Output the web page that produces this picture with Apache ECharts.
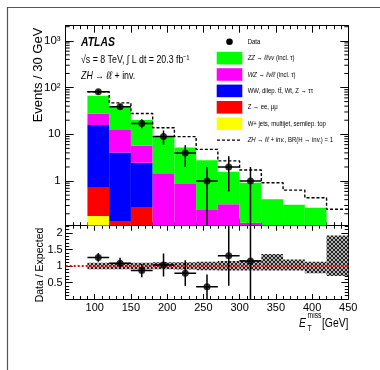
<!DOCTYPE html>
<html lang="en">
<head>
<meta charset="UTF-8">
<title>ZH → ℓℓ + inv., ETmiss</title>
<style>html,body{margin:0;padding:0;background:#fff;}</style>
</head>
<body>
<div id="main" style="width:380px;height:370px;"></div>
<script src="https://cdn.jsdelivr.net/npm/echarts@6/dist/echarts.min.js"></script>
<script>
// 30 GeV bins
var binLow  = [90, 120, 150, 180, 210, 240, 270, 300, 330, 360, 390, 420];
var binHigh = [120, 150, 180, 210, 240, 270, 300, 330, 360, 390, 420, 450];

// backgrounds, stacked bottom -> top
var wjets = [0.18, 0, 0, 0, 0, 0, 0, 0, 0, 0, 0, 0];
var zll   = [0.54, 0.135, 0.27, 0, 0, 0, 0, 0, 0, 0, 0, 0];
var ww    = [15.0, 3.97, 2.19, 0, 0, 0, 0, 0, 0, 0, 0, 0];
var wz    = [12.2, 8.2, 3.24, 1.46, 0.86, 0.24, 0.32, 0.128, 0, 0, 0, 0];
var zz    = [38.6, 27.7, 14.4, 7.74, 4.34, 2.56, 1.26, 0.79, 0.41, 0.31, 0.27, 0];
// ZH -> ll + inv (dashed)
var signal = [81, 47, 27.9, 13.8, 8.9, 4.75, 2.7, 1.72, 0.92, 0.64, 0.44, 0.25];

// data
var dataX  = [105, 135, 165, 195, 225, 255, 285, 315];
var dataY  = [81, 39, 17, 9, 4, 1, 2, 1];
var dataLo = [72, 33, 13.5, 6, 2, 0, 0.6, 0];
var dataHi = [90, 45, 21, 12, 5.8, 2.0, 3.4, 2.0];

// data / expected
var ratioY  = [1.26, 1.08, 0.86, 1.03, 0.78, 0.37, 1.31, 1.15];
var ratioLo = [1.13, 0.91, 0.66, 0.68, 0.39, 0, 0.40, 0];
var ratioHi = [1.39, 1.25, 1.06, 1.38, 1.17, 0.74, 2.5, 2.5];
var bandLo  = [0.90, 0.90, 0.90, 0.90, 0.89, 0.87, 0.86, 0.86, 0.86, 0.86, 0.78, 0.70];
var bandHi  = [1.10, 1.10, 1.10, 1.11, 1.11, 1.13, 1.15, 1.18, 1.36, 1.20, 1.13, 1.92];

var logLabels = { 0: '1', 1: '10', 2: '10²', 3: '10³' };

var legendNames = ['Data', 'ZZ → ℓℓνν', 'WZ → ℓνℓℓ', 'WW, dilep. tt̄, Wt, Z → ττ', 'Z → ee, μμ', 'W+ jets, multijet, semilep. top', 'ZH → ℓℓ + inv.'];
var legendTails = ['', ' (incl. τ)', ' (incl. τ)', '', '', '', ', BR(H → inv.) = 1'];

var X_MIN = 60, X_MAX = 450, Y_MIN = 0.111, Y_MAX = 2100;
var FONT = "'Liberation Sans', Arial, sans-serif";
var SQ = 0.8; // the original text is drawn narrow
var colors = ['#ffff00', '#ff0000', '#0000ff', '#ff00ff', '#00ff00'];

var myChart = echarts.init(document.getElementById('main'));

// grey hatch for the systematic band
var hatch = document.createElement('canvas');
hatch.width = 4; hatch.height = 4;
var hctx = hatch.getContext('2d');
hctx.fillStyle = '#b4b4b4';
hctx.fillRect(0, 0, 4, 4);
hctx.fillStyle = '#222';
[[0,0],[1,1],[2,2],[3,3],[3,0],[2,1],[1,2],[0,3]].forEach(function (p) { hctx.fillRect(p[0], p[1], 1, 1); });

// stacked rects
var stacks = [wjets, zll, ww, wz, zz];
var base = binLow.map(function () { return 0; });
var stackSeries = stacks.map(function (vals, k) {
    var items = vals.map(function (v, i) {
        var lo = base[i], hi = base[i] + v;
        base[i] = hi;
        return [binLow[i], binHigh[i], Math.max(lo, Y_MIN), Math.max(hi, Y_MIN)];
    });
    return {
        type: 'custom', xAxisIndex: 0, yAxisIndex: 0, clip: true,
        encode: { x: [0, 1], y: [2, 3] },
        data: items,
        renderItem: function (params, api) {
            var p0 = api.coord([api.value(0), api.value(3)]);
            var p1 = api.coord([api.value(1), api.value(2)]);
            if (p1[1] - p0[1] <= 0) return;
            return { type: 'rect', shape: { x: p0[0], y: p0[1], width: p1[0] - p0[0], height: p1[1] - p0[1] },
                style: { fill: colors[k] } };
        }
    };
});

function errorSeries(xi, yi, xs, lo, hi, ymin) {
    return {
        type: 'custom', xAxisIndex: xi, yAxisIndex: yi, clip: true, z: 4,
        data: xs.map(function (x, i) { return [x, Math.max(lo[i], ymin), hi[i], x - 15, x + 15, i]; }),
        encode: { x: 0, y: [1, 2] },
        renderItem: function (params, api) {
            var x = api.value(0), i = api.value(5);
            var yv = (yi === 0 ? dataY : ratioY)[i];
            var a = api.coord([x, api.value(1)]);
            var b = api.coord([x, api.value(2)]);
            var l = api.coord([api.value(3), yv]);
            var r = api.coord([api.value(4), yv]);
            var st = { stroke: '#000', lineWidth: 1.5 };
            return { type: 'group', children: [
                { type: 'line', shape: { x1: a[0], y1: a[1], x2: b[0], y2: b[1] }, style: st },
                { type: 'line', shape: { x1: l[0], y1: l[1], x2: r[0], y2: r[1] }, style: st }
            ] };
        }
    };
}

// log minor ticks on both sides of the top pad
var minorVals = [];
for (var e = -1; e <= 3; e++) for (var m = 2; m <= 9; m++) {
    var v = m * Math.pow(10, e);
    if (v > Y_MIN && v < Y_MAX) minorVals.push(v);
}

function xAx(grid, pos, labels) {
    return {
        gridIndex: grid, type: 'value', min: X_MIN, max: X_MAX, splitNumber: 8, position: pos,
        axisLine: { onZero: false, lineStyle: { color: '#000', width: 1 } },
        axisTick: { inside: true, length: grid === 0 ? 7 : 5, lineStyle: { color: '#000' } },
        minorTick: { show: true, splitNumber: 5, length: grid === 0 ? 3.5 : 3, lineStyle: { color: '#000' } },
        splitLine: { show: false },
        axisLabel: { show: labels, showMinLabel: false, margin: 3, color: '#000', fontSize: 11, fontFamily: FONT }
    };
}

var option = {
    animation: false,
    backgroundColor: '#fff',
    grid: [
        { left: 65.7, right: 31.7, top: 25.7, height: 200 },
        { left: 65.7, right: 31.7, top: 225.7, height: 73.3 }
    ],
    xAxis: [xAx(0, 'bottom', false), xAx(0, 'top', false), xAx(1, 'bottom', true), xAx(1, 'top', false)],
    yAxis: [
        {
            gridIndex: 0, type: 'log', logBase: 10, min: Y_MIN, max: Y_MAX, position: 'left',
            axisLine: { show: true, lineStyle: { color: '#000' } },
            axisTick: { inside: true, length: 8, lineStyle: { color: '#000' } },
            splitLine: { show: false },
            axisLabel: {
                showMinLabel: false, showMaxLabel: false, margin: 5, color: '#000', fontSize: 11.5, fontFamily: FONT,
                formatter: function (v) { return logLabels[Math.round(Math.log10(v))] || ''; }
            }
        },
        {
            gridIndex: 0, type: 'log', logBase: 10, min: Y_MIN, max: Y_MAX, position: 'right',
            axisLine: { show: true, lineStyle: { color: '#000' } },
            axisTick: { inside: true, length: 8, lineStyle: { color: '#000' } },
            splitLine: { show: false }, axisLabel: { show: false }
        },
        {
            gridIndex: 1, type: 'value', min: 0, max: 2.22, splitNumber: 4, position: 'left',
            axisLine: { show: true, lineStyle: { color: '#000' } },
            axisTick: { inside: true, length: 7, lineStyle: { color: '#000' } },
            minorTick: { show: true, splitNumber: 5, length: 3.5, lineStyle: { color: '#000' } },
            splitLine: { show: false },
            axisLabel: { showMinLabel: false, showMaxLabel: false, margin: 3, color: '#000', fontSize: 11, fontFamily: FONT }
        },
        {
            gridIndex: 1, type: 'value', min: 0, max: 2.22, splitNumber: 4, position: 'right',
            axisLine: { show: true, lineStyle: { color: '#000' } },
            axisTick: { inside: true, length: 7, lineStyle: { color: '#000' } },
            minorTick: { show: true, splitNumber: 5, length: 3.5, lineStyle: { color: '#000' } },
            splitLine: { show: false }, axisLabel: { show: false }
        }
    ],
    series: stackSeries.concat([
        {
            type: 'custom', xAxisIndex: 0, yAxisIndex: 0, z: 3,
            data: minorVals.map(function (v) { return [X_MIN, v]; }),
            renderItem: function (params, api) {
                var l = api.coord([X_MIN, api.value(1)]);
                var r = api.coord([X_MAX, api.value(1)]);
                var st = { stroke: '#000', lineWidth: 1 };
                return { type: 'group', children: [
                    { type: 'line', shape: { x1: l[0], y1: l[1], x2: l[0] + 4, y2: l[1] }, style: st },
                    { type: 'line', shape: { x1: r[0] - 4, y1: r[1], x2: r[0], y2: r[1] }, style: st }
                ] };
            }
        },
        {
            type: 'line', xAxisIndex: 0, yAxisIndex: 0, step: 'end', symbol: 'none', z: 3,
            data: binLow.map(function (x, i) { return [x, signal[i]]; }).concat([[binHigh[11], signal[11]]]),
            lineStyle: { color: '#000', width: 1.4, type: [3, 2] }
        },
        errorSeries(0, 0, dataX, dataLo, dataHi, Y_MIN),
        {
            type: 'scatter', xAxisIndex: 0, yAxisIndex: 0, symbolSize: 7, z: 5,
            data: dataX.map(function (x, i) { return [x, dataY[i]]; }),
            itemStyle: { color: '#000' }
        },
        {
            type: 'custom', xAxisIndex: 2, yAxisIndex: 2, clip: true,
            data: binLow.map(function (x, i) { return [x, binHigh[i], bandLo[i], bandHi[i]]; }),
            encode: { x: [0, 1], y: [2, 3] },
            renderItem: function (params, api) {
                var p0 = api.coord([api.value(0), api.value(3)]);
                var p1 = api.coord([api.value(1), api.value(2)]);
                return { type: 'rect', shape: { x: p0[0], y: p0[1], width: p1[0] - p0[0], height: p1[1] - p0[1] },
                    style: { fill: { image: hatch, repeat: 'repeat' } } };
            }
        },
        {
            type: 'line', xAxisIndex: 2, yAxisIndex: 2, symbol: 'none', z: 3,
            data: [[X_MIN, 1], [X_MAX, 1]],
            lineStyle: { color: '#ff0000', width: 2, type: [2, 2] }
        },
        errorSeries(2, 2, dataX, ratioLo, ratioHi, 0),
        {
            type: 'scatter', xAxisIndex: 2, yAxisIndex: 2, symbolSize: 7, z: 5,
            data: dataX.map(function (x, i) { return [x, ratioY[i]]; }),
            itemStyle: { color: '#000' }
        }
    ]),
    graphic: []
};

var g = option.graphic;
function label(x, y, text, font, extra) {
    var style = { text: text, font: font + ' ' + FONT, fill: '#000', textVerticalAlign: 'middle' };
    for (var k in (extra || {})) style[k] = extra[k];
    return { type: 'text', x: x, y: y, scaleX: SQ, style: style, silent: true };
}
// outer pad frame
g.push({ type: 'rect', shape: { x: 7.5, y: 7.5, width: 400, height: 400 }, style: { fill: null, stroke: '#555', lineWidth: 1.2 }, silent: true });
g.push(label(81, 42, 'ATLAS', 'italic bold 13px'));
g.push(label(81, 60, '√s = 8 TeV, ∫ L dt = 20.3 fb⁻¹', '11px'));
g.push(label(81, 76, '{i|ZH} → {i|ℓℓ} + inv.', '11px', { rich: { i: { fontStyle: 'italic', fontSize: 11, fontFamily: FONT } } }));
g.push({ type: 'text', x: 38, y: 75, rotation: Math.PI / 2, style: { text: 'Events / 30 GeV', font: '13px ' + FONT, fill: '#000', textAlign: 'center', textVerticalAlign: 'middle' } });
g.push({ type: 'text', x: 40, y: 265, rotation: Math.PI / 2, style: { text: 'Data / Expected', font: '10.5px ' + FONT, fill: '#000', textAlign: 'center', textVerticalAlign: 'middle' } });
g.push(label(299, 323, 'E', 'italic 13px'));
g.push(label(307.5, 316, 'miss', '8.5px'));
g.push(label(307.5, 328.5, 'T', '8.5px'));
g.push(label(348.5, 323, '[GeV]', '13px', { textAlign: 'right' }));

// legend
var legColors = [null, colors[4], colors[3], colors[2], colors[1], colors[0], null];
legendNames.forEach(function (name, i) {
    var cy = 41.7 + i * 16.4;
    if (i === 0) {
        g.push({ type: 'circle', shape: { cx: 229.5, cy: cy, r: 3.3 }, style: { fill: '#000' } });
    } else if (i === 6) {
        g.push({ type: 'line', shape: { x1: 217, y1: cy, x2: 241, y2: cy }, style: { stroke: '#000', lineWidth: 1.4, lineDash: [3, 2] } });
    } else {
        g.push({ type: 'rect', shape: { x: 216.7, y: cy - 6.3, width: 25.6, height: 12.6 }, style: { fill: legColors[i] } });
    }
    var italic = i === 1 || i === 2 || i === 6;
    g.push(label(247.7, cy, (italic ? '{i|' + name + '}' : name) + legendTails[i], '7.5px',
        { rich: { i: { fontStyle: 'italic', fontSize: 7.5, fontFamily: FONT } } }));
});

myChart.setOption(option);
</script>
</body>
</html>
